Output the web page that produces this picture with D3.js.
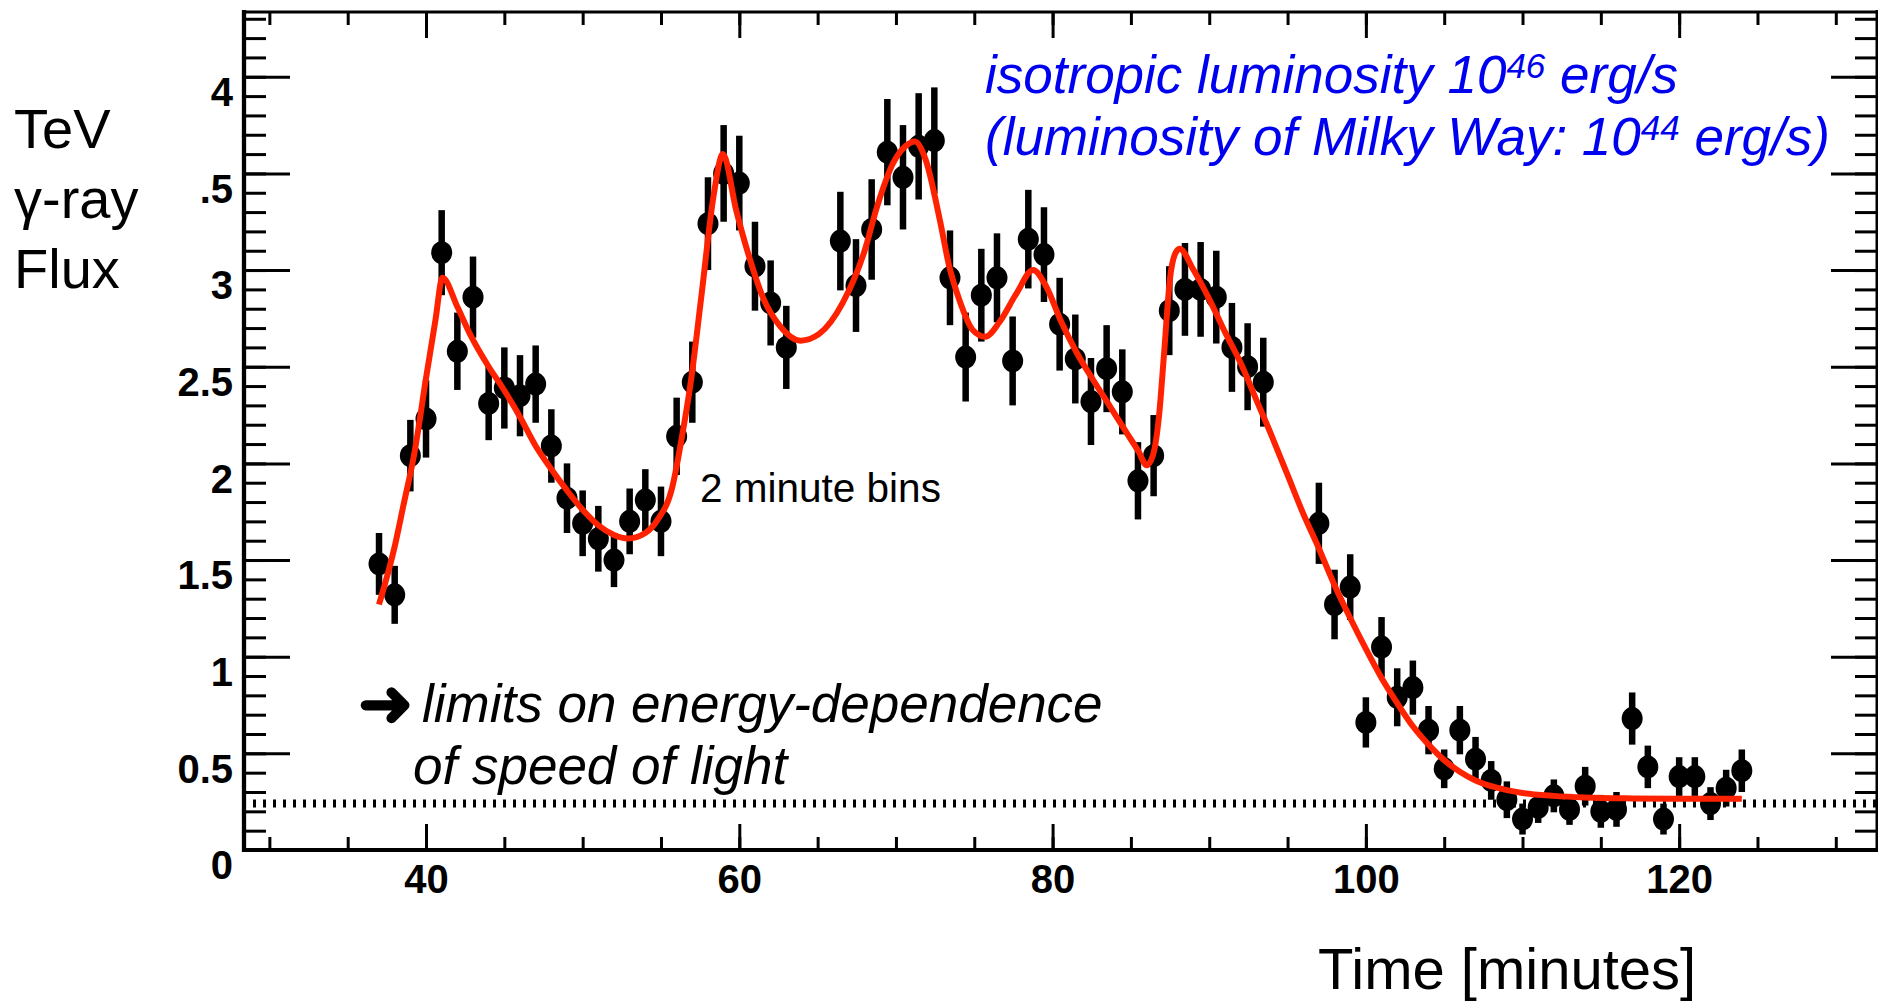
<!DOCTYPE html>
<html>
<head>
<meta charset="utf-8">
<script src="https://cdn.jsdelivr.net/npm/d3@7"></script>
<style>
  html, body { margin: 0; padding: 0; background: #fff; }
  svg { display: block; }
  text { font-family: "Liberation Sans", Arial, Helvetica, sans-serif; }
</style>
</head>
<body>
<svg id="chart" width="1878" height="1003"></svg>
<script>
// measured light curve, 2 minute bins (time in minutes, flux)
const times = [
  37, 38, 39, 40, 41, 42, 43, 44, 45, 46, 47, 48, 49, 50, 51, 52, 53, 54, 55, 56, 57, 58, 59, 60, 61, 62, 63,
  66.45, 67.45, 68.45, 69.45, 70.45, 71.45, 72.45, 73.45, 74.45, 75.45, 76.45, 77.45, 78.45, 79.45,
  80.45, 81.45, 82.45, 83.45, 84.45, 85.45, 86.45, 87.45, 88.45, 89.45, 90.45, 91.45, 92.45, 93.45,
  97, 98, 99, 100, 101, 102, 103, 104, 105, 106, 107, 108, 109, 110, 111, 112, 113, 114, 115, 116,
  117, 118, 119, 120, 121, 122, 123, 124
];
const flux = [
  1.48, 1.32, 2.04, 2.23, 3.09, 2.58, 2.86, 2.31, 2.39, 2.35, 2.41, 2.09, 1.82, 1.69, 1.61, 1.50, 1.70, 1.81, 1.70, 2.14, 2.42, 3.24, 3.50, 3.45, 3.02, 2.83, 2.60,
  3.15, 2.92, 3.21, 3.61, 3.48, 3.64, 3.67, 2.96, 2.55, 2.87, 2.96, 2.53, 3.16, 3.08,
  2.72, 2.54, 2.32, 2.49, 2.37, 1.91, 2.04, 2.79, 2.90, 2.90, 2.86, 2.60, 2.50, 2.42,
  1.69, 1.27, 1.36, 0.66, 1.05, 0.79, 0.84, 0.62, 0.42, 0.62, 0.47, 0.36, 0.26, 0.16, 0.22, 0.28, 0.21, 0.33, 0.20, 0.21,
  0.68, 0.43, 0.16, 0.38, 0.38, 0.24, 0.32, 0.41
];
const fluxErr = [
  0.16, 0.15, 0.185, 0.20, 0.22, 0.20, 0.21, 0.19, 0.21, 0.21, 0.20, 0.19, 0.18, 0.17, 0.17, 0.14, 0.17, 0.16, 0.18, 0.20, 0.21, 0.24, 0.25, 0.245, 0.23, 0.22, 0.215,
  0.255, 0.24, 0.26, 0.275, 0.27, 0.275, 0.275, 0.245, 0.23, 0.24, 0.23, 0.23, 0.255, 0.245,
  0.24, 0.23, 0.225, 0.225, 0.22, 0.20, 0.21, 0.23, 0.24, 0.245, 0.24, 0.23, 0.225, 0.23,
  0.21, 0.18, 0.17, 0.13, 0.155, 0.15, 0.14, 0.125, 0.10, 0.125, 0.115, 0.10, 0.095, 0.08, 0.08, 0.085, 0.08, 0.10, 0.085, 0.09,
  0.135, 0.11, 0.08, 0.10, 0.10, 0.085, 0.095, 0.11
];

// fitted curve
const fitTime = [
  37.0, 38.0, 38.55, 39.25, 40.0, 40.6, 41.05, 42.0, 42.8, 44.0, 44.9, 46.0, 47.0, 48.0, 49.0, 50.0, 51.0, 52.0, 52.9, 54.0, 54.8,
  55.7, 56.3, 56.9, 57.6, 58.35, 58.95, 59.8, 60.7, 61.5, 62.6, 63.9, 65.1, 66.6, 68.0, 68.8, 69.8, 70.6, 71.2, 71.9, 72.8,
  73.4, 74.05, 74.9, 75.7, 76.6, 77.7, 78.75, 79.6, 80.5, 81.56, 82.6, 83.7, 84.75, 85.5, 86.0, 86.4, 86.8, 87.1, 87.5, 87.8,
  88.1, 89.0, 90.0, 91.0, 92.0, 93.0, 94.0, 95.0, 96.0, 97.0, 98.0, 99.0, 100.0, 101.0, 102.0, 103.0, 104.0, 105.0, 106.0,
  107.0, 108.0, 109.0, 110.0, 112.0, 114.0, 117.0, 120.0, 124.0
];
const fitFlux = [
  1.27, 1.57, 1.78, 2.05, 2.44, 2.74, 2.96, 2.81, 2.67, 2.50, 2.39, 2.24, 2.09, 1.97, 1.86, 1.76, 1.68, 1.63, 1.612, 1.64, 1.71,
  1.87, 2.12, 2.42, 2.88, 3.38, 3.60, 3.31, 3.05, 2.86, 2.71, 2.635, 2.67, 2.83, 3.10, 3.33, 3.55, 3.64, 3.665, 3.57, 3.26,
  3.02, 2.845, 2.69, 2.655, 2.73, 2.88, 3.00, 2.914, 2.742, 2.57, 2.43, 2.29, 2.155, 2.06, 1.99, 2.04, 2.25, 2.55, 2.96, 3.08,
  3.11, 3.00, 2.85, 2.68, 2.52, 2.33, 2.14, 1.94, 1.74, 1.56, 1.37, 1.20, 1.04, 0.89, 0.76, 0.64, 0.545, 0.465, 0.405,
  0.36, 0.33, 0.31, 0.295, 0.28, 0.272, 0.267, 0.265, 0.265
];

const baselineFlux = 0.24;

const xTickValues = [40, 60, 80, 100, 120];
const xTickLabels = ["40", "60", "80", "100", "120"];
const yTickValues = [0, 0.5, 1, 1.5, 2, 2.5, 3, 3.5, 4];
const yTickLabels = ["0", "0.5", "1", "1.5", "2", "2.5", "3", ".5", "4"];

const svg = d3.select("#chart");

const x = d3.scaleLinear().domain([28.38, 132.63]).range([244, 1877]);
const y = d3.scaleLinear().domain([0, 4.335]).range([850, 12]);

const yMinor = d3.range(0, 4.31, 0.1);
const xMinor = d3.range(30, 131, 5);

function styleTicks(g, w) {
  g.select(".domain").remove();
  g.selectAll(".tick line").attr("stroke", "#000").attr("stroke-width", w);
}

// ticks: left and right (inward), bottom and top (inward)
svg.append("g").attr("transform", "translate(244,0)")
  .call(d3.axisRight(y).tickValues(yMinor).tickSize(22).tickFormat(""))
  .call(g => styleTicks(g, 3));
svg.append("g").attr("transform", "translate(244,0)")
  .call(d3.axisRight(y).tickValues(yTickValues).tickSize(46).tickFormat(""))
  .call(g => styleTicks(g, 3));
svg.append("g").attr("transform", "translate(1877,0)")
  .call(d3.axisLeft(y).tickValues(yMinor).tickSize(22).tickFormat(""))
  .call(g => styleTicks(g, 3));
svg.append("g").attr("transform", "translate(1877,0)")
  .call(d3.axisLeft(y).tickValues(yTickValues).tickSize(46).tickFormat(""))
  .call(g => styleTicks(g, 3));
svg.append("g").attr("transform", "translate(0,850)")
  .call(d3.axisTop(x).tickValues(xMinor).tickSize(13).tickFormat(""))
  .call(g => styleTicks(g, 3));
svg.append("g").attr("transform", "translate(0,850)")
  .call(d3.axisTop(x).tickValues(xTickValues).tickSize(26).tickFormat(""))
  .call(g => styleTicks(g, 3));
svg.append("g").attr("transform", "translate(0,12)")
  .call(d3.axisBottom(x).tickValues(xMinor).tickSize(13).tickFormat(""))
  .call(g => styleTicks(g, 3));
svg.append("g").attr("transform", "translate(0,12)")
  .call(d3.axisBottom(x).tickValues(xTickValues).tickSize(26).tickFormat(""))
  .call(g => styleTicks(g, 3));

// tick labels
svg.append("g").attr("transform", "translate(244,0)")
  .call(d3.axisLeft(y).tickValues(yTickValues).tickSize(0).tickPadding(11)
    .tickFormat((d, i) => yTickLabels[i]))
  .call(g => g.select(".domain").remove())
  .call(g => g.selectAll("text")
    .attr("dy", "0.72em")
    .attr("font-family", "'Liberation Sans', Arial, sans-serif")
    .attr("font-weight", "bold")
    .attr("font-size", 40)
    .attr("fill", "#000"));
svg.append("g").attr("transform", "translate(0,850)")
  .call(d3.axisBottom(x).tickValues(xTickValues).tickSize(0).tickPadding(14.6)
    .tickFormat((d, i) => xTickLabels[i]))
  .call(g => g.select(".domain").remove())
  .call(g => g.selectAll("text")
    .attr("font-family", "'Liberation Sans', Arial, sans-serif")
    .attr("font-weight", "bold")
    .attr("font-size", 40)
    .attr("fill", "#000"));

// frame
const frame = svg.append("g").attr("stroke", "#000").attr("fill", "none");
frame.append("line").attr("x1", 244).attr("x2", 244).attr("y1", 10).attr("y2", 852).attr("stroke-width", 4.3);
frame.append("line").attr("x1", 242).attr("x2", 1878).attr("y1", 850).attr("y2", 850).attr("stroke-width", 4);
frame.append("line").attr("x1", 242).attr("x2", 1878).attr("y1", 12).attr("y2", 12).attr("stroke-width", 3);
frame.append("line").attr("x1", 1877).attr("x2", 1877).attr("y1", 10).attr("y2", 852).attr("stroke-width", 3);

// dotted baseline level
svg.append("line")
  .attr("x1", 253).attr("x2", 1878)
  .attr("y1", y(baselineFlux)).attr("y2", y(baselineFlux))
  .attr("stroke", "#000")
  .attr("stroke-width", 8)
  .attr("stroke-dasharray", "3 7");

// data points with error bars
const pts = times.map((t, i) => ({ t: t, v: flux[i], e: fluxErr[i] }));
const pg = svg.append("g");
pg.selectAll("line.err").data(pts).enter().append("line")
  .attr("class", "err")
  .attr("x1", d => x(d.t)).attr("x2", d => x(d.t))
  .attr("y1", d => y(d.v - d.e)).attr("y2", d => y(d.v + d.e))
  .attr("stroke", "#000").attr("stroke-width", 6.5);
pg.selectAll("ellipse").data(pts).enter().append("ellipse")
  .attr("cx", d => x(d.t)).attr("cy", d => y(d.v))
  .attr("rx", 10.5).attr("ry", 11.5)
  .attr("fill", "#000");

// fit curve
const fitPts = fitTime.map((t, i) => [t, fitFlux[i]]);
svg.append("path")
  .datum(fitPts)
  .attr("fill", "none")
  .attr("stroke", "#ff2200")
  .attr("stroke-width", 6)
  .attr("stroke-linejoin", "round")
  .attr("d", d3.line().x(d => x(d[0])).y(d => y(d[1])).curve(d3.curveMonotoneX));

// axis titles
const yTitle = svg.append("g").attr("font-size", 56).attr("fill", "#000");
yTitle.append("text").attr("x", 14).attr("y", 148).text("TeV");
yTitle.append("text").attr("x", 14).attr("y", 218).text("γ-ray");
yTitle.append("text").attr("x", 14).attr("y", 288).text("Flux");

svg.append("text").attr("x", 1318).attr("y", 989)
  .attr("font-size", 58).attr("fill", "#000")
  .text("Time [minutes]");

svg.append("text").attr("x", 700).attr("y", 502)
  .attr("font-size", 40.5).attr("fill", "#000")
  .text("2 minute bins");

// blue annotation
const blue = svg.append("g").attr("fill", "#0000f0").attr("font-size", 53).attr("font-style", "italic");
const b1 = blue.append("text").attr("x", 985).attr("y", 93);
b1.append("tspan").text("isotropic luminosity 10");
b1.append("tspan").attr("font-size", 35).attr("dy", -15).text("46");
b1.append("tspan").attr("dy", 15).text(" erg/s");
const b2 = blue.append("text").attr("x", 985).attr("y", 155);
b2.append("tspan").text("(luminosity of Milky Way: 10");
b2.append("tspan").attr("font-size", 35).attr("dy", -15).text("44");
b2.append("tspan").attr("dy", 15).text(" erg/s)");

// black annotation
svg.append("text").attr("x", 358).attr("y", 726)
  .attr("font-family", "'DejaVu Sans', sans-serif")
  .attr("font-weight", "bold")
  .attr("font-size", 66).attr("fill", "#000")
  .text("➜");
const blk = svg.append("g").attr("fill", "#000").attr("font-size", 53).attr("font-style", "italic");
blk.append("text").attr("x", 422).attr("y", 722).text("limits on energy-dependence");
blk.append("text").attr("x", 413).attr("y", 784).text("of speed of light");
</script>
</body>
</html>
